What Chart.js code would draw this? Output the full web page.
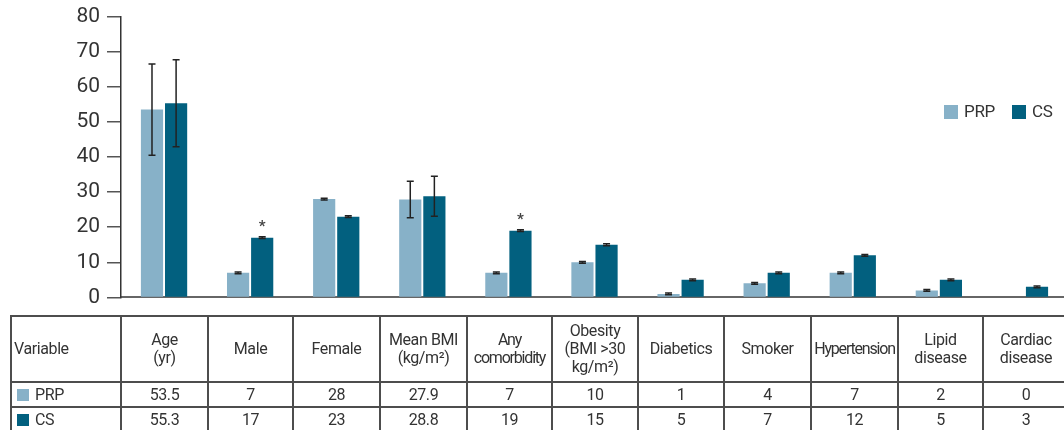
<!DOCTYPE html>
<html>
<head>
<meta charset="utf-8">
<script src="https://cdn.jsdelivr.net/npm/chart.js@4.4.1/dist/chart.umd.min.js"></script>
<style>
  html, body { margin:0; padding:0; background:#fff; overflow:hidden; width:1064px; height:430px; }
  #wrap { position:relative; width:1064px; height:430px; overflow:hidden; }
  #chart { position:absolute; left:0; top:-3px; }
  #legend { position:absolute; left:944px; top:101px; font:17px Roboto, sans-serif; color:#333; white-space:nowrap; letter-spacing:-0.3px; }
  #legend span.sw { display:inline-block; width:14px; height:14px; vertical-align:-2px; margin-right:6px; }
  #legend span.it { margin-right:17px; }
  table { position:absolute; left:10px; top:315px; border-collapse:collapse; table-layout:fixed; width:1058px;
          font:16px Roboto, sans-serif; color:#333; letter-spacing:-0.4px; }
  td { border:2px solid #4d4d4d; text-align:center; padding:0; line-height:18px; overflow:hidden; white-space:nowrap; }
  tr.head td { height:64px; }
  tr.row td { height:23px; }
  td.first { text-align:left; padding-left:2px; }
  td.first span.sw { display:inline-block; width:12px; height:12px; vertical-align:-1px; margin:0 6px 0 3px; }
  .tight { letter-spacing:-1.2px; }
</style>
</head>
<body>
<div id="wrap">
  <canvas id="chart" width="1080" height="320"></canvas>
  <div id="legend"></div>
  <table id="tbl"></table>
</div>
<script>
const categories = [
  ['Age', '(yr)'], ['Male'], ['Female'], ['Mean BMI', '(kg/m²)'], ['Any', 'comorbidity'],
  ['Obesity', '(BMI >30', 'kg/m²)'], ['Diabetics'], ['Smoker'], ['Hypertension'],
  ['Lipid', 'disease'], ['Cardiac', 'disease']
];
const seriesNames = ['PRP', 'CS'];
const prpValues = [53.5, 7, 28, 27.9, 7, 10, 1, 4, 7, 2, 0];
const csValues = [55.3, 17, 23, 28.8, 19, 15, 5, 7, 12, 5, 3];
const prpErrors = [13, 0.25, 0.25, 5.2, 0.25, 0.25, 0.25, 0.25, 0.25, 0.25, 0];
const csErrors = [12.4, 0.25, 0.25, 5.7, 0.25, 0.25, 0.25, 0.25, 0.25, 0.25, 0.25];
const csSignificant = [0, 1, 0, 0, 1, 0, 0, 0, 0, 0, 0];
const yTicks = [0, 10, 20, 30, 40, 50, 60, 70, 80];
const colors = ['#87b1c8', '#02607f'];

Chart.defaults.font.family = 'Roboto, sans-serif';
Chart.defaults.color = '#333';

const errorBars = {
  id: 'errorBars',
  afterDatasetsDraw(chart) {
    const {ctx} = chart;
    const y = chart.scales.y;
    const errs = [prpErrors, csErrors];
    chart.data.datasets.forEach((ds, i) => {
      chart.getDatasetMeta(i).data.forEach((bar, j) => {
        const v = ds.data[j];
        const e = errs[i][j];
        if (!v) return;
        const top = y.getPixelForValue(v + e);
        const bot = y.getPixelForValue(v - e);
        ctx.save();
        ctx.strokeStyle = '#222';
        ctx.lineWidth = 1.5;
        ctx.beginPath();
        ctx.moveTo(bar.x, top); ctx.lineTo(bar.x, bot);
        ctx.moveTo(bar.x - 3.5, top); ctx.lineTo(bar.x + 3.5, top);
        ctx.moveTo(bar.x - 3.5, bot); ctx.lineTo(bar.x + 3.5, bot);
        ctx.stroke();
        if (i === 1 && csSignificant[j]) {
          ctx.fillStyle = '#444';
          ctx.font = 'bold 15px Roboto, sans-serif';
          ctx.textAlign = 'center';
          ctx.textBaseline = 'middle';
          ctx.fillText('*', bar.x, y.getPixelForValue(v) - 10);
        }
        ctx.restore();
      });
    });
  }
};

new Chart(document.getElementById('chart'), {
  type: 'bar',
  data: {
    labels: categories.map(c => c.join(' ')),
    datasets: [
      {label: seriesNames[0], data: prpValues, backgroundColor: colors[0]},
      {label: seriesNames[1], data: csValues, backgroundColor: colors[1]}
    ]
  },
  options: {
    responsive: false,
    animation: false,
    devicePixelRatio: 1,
    categoryPercentage: 0.56,
    barPercentage: 0.92,
    layout: {padding: {top: 12, right: 12, left: 0, bottom: 0}},
    plugins: {legend: {display: false}, tooltip: {enabled: false}},
    scales: {
      x: {
        offset: true,
        grid: {display: false},
        ticks: {display: false},
        border: {display: true, color: '#666', width: 2},
        afterFit: s => { s.height = 13; }
      },
      y: {
        min: 0, max: 80,
        afterBuildTicks: s => { s.ticks = yTicks.map(v => ({value: v})); },
        ticks: {font: {size: 21}, color: '#333', padding: 7},
        grid: {drawOnChartArea: false, drawTicks: true, tickLength: 14, color: '#555', lineWidth: 1.5},
        border: {display: true, color: '#333', width: 1.5},
        afterFit: s => { s.width = 121; }
      }
    }
  },
  plugins: [errorBars]
});

// legend
document.getElementById('legend').innerHTML = seriesNames.map((n, i) =>
  `<span class="it"><span class="sw" style="background:${colors[i]}"></span>${n}</span>`).join('');

// table
const colW = [110, 87, 85, 87, 87, 85, 86, 86, 87, 87, 85, 86];
let html = '<colgroup>' + colW.map(w => `<col style="width:${w}px">`).join('') + '</colgroup>';
html += '<tr class="head"><td class="first">Variable</td>' +
  categories.map(c => `<td${c.some(l => l.length > 10) ? ' class="tight"' : ''}>${c.join('<br>')}</td>`).join('') + '</tr>';
[prpValues, csValues].forEach((vals, i) => {
  html += `<tr class="row"><td class="first"><span class="sw" style="background:${colors[i]}"></span>${seriesNames[i]}</td>` +
    vals.map(v => `<td>${v}</td>`).join('') + '</tr>';
});
document.getElementById('tbl').innerHTML = html;
</script>
</body>
</html>
